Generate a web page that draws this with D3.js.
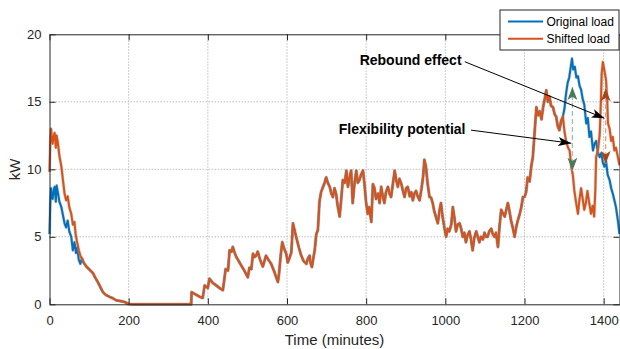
<!DOCTYPE html>
<html>
<head>
<meta charset="utf-8">
<script src="https://cdn.jsdelivr.net/npm/d3@7"></script>
<style>
  body { margin: 0; background: #fff; }
  svg { font-family: "Liberation Sans", Arial, sans-serif; }
  .grid line { stroke: #bdbdbd; stroke-dasharray: 1.5,1.5; }
  .axis text { fill: #262626; font-size: 13px; }
</style>
</head>
<body>
<svg width="620" height="349"></svg>
<script>
// [minute, kW]
const originalHead = [[0,5.2],[2,7.5],[4,8.6],[6,8.0],[8,7.8],[11,8.5],[13,8.7],[16,7.6],[18,8.8],[21,8.3],[25,7.6],[30,7.2],[34,6.6],[38,6.0],[42,5.7],[46,6.2],[50,5.4],[55,5.0],[59,4.0],[63,4.6],[67,3.8],[70,4.2],[74,3.3],[78,3.0]];
const shiftedHead = [[0,9.8],[2,12.0],[4,13.0],[6,12.3],[8,11.9],[11,12.5],[13,12.7],[16,11.6],[18,12.5],[21,12.0],[25,11.0],[30,10.2],[34,9.2],[38,8.2],[42,7.7],[46,8.0],[50,7.2],[55,6.7],[59,5.9],[63,6.1],[66,5.2],[69,4.7],[72,4.3],[74,4.0],[78,3.6]];

// both loads are identical here
const sharedLoad = [[82,3.4],[86,3.1],[93,2.8],[100,2.6],[110,2.3],[116,1.95],[122,1.65],[128,1.3],[135,0.9],[142,0.7],[152,0.55],[160,0.45],[168,0.3],[178,0.25],[190,0.17],[200,0.02],[210,0],[358,0],[359,0.9],[365,0.8],[371,0.7],[380,0.55],[387,0.47],[392,1.4],[396,1.3],[400,1.2],[404,1.9],[412,1.6],[421,1.4],[430,1.2],[438,1.04],[445,2.6],[451,2.5],[455,4.0],[460,3.9],[463,4.25],[468,3.8],[472,3.5],[478,3.2],[484,2.9],[492,2.5],[501,2.0],[505,2.7],[510,2.6],[514,3.75],[518,3.5],[522,3.6],[526,3.9],[532,3.3],[539,2.8],[543,3.2],[547,3.6],[553,3.3],[560,3.0],[568,2.4],[577,1.65],[580,2.3],[584,3.6],[588,4.6],[593,4.1],[598,3.75],[602,3.1],[606,3.4],[611,3.85],[615,6.0],[619,5.5],[623,5.0],[630,4.2],[636,3.6],[642,3.2],[649,3.0],[653,3.4],[657,3.6],[660,3.0],[663,2.76],[667,3.5],[670,4.0],[674,5.2],[678,5.5],[682,7.6],[686,8.3],[691,8.7],[695,9.0],[699,9.4],[703,9.0],[708,8.7],[712,8.2],[716,7.95],[720,8.6],[724,8.2],[728,7.3],[733,6.5],[737,7.8],[741,9.2],[746,9.0],[750,9.9],[754,8.7],[758,9.4],[762,9.9],[766,7.5],[770,8.8],[775,9.9],[779,9.0],[783,9.2],[787,9.6],[792,9.9],[796,8.8],[800,7.5],[804,6.7],[808,7.2],[813,6.1],[817,8.9],[821,8.6],[825,7.8],[830,8.2],[834,7.5],[838,8.7],[842,8.0],[846,7.5],[850,8.3],[855,8.7],[859,8.2],[863,7.95],[867,8.8],[872,9.9],[876,9.2],[880,8.7],[884,9.3],[889,8.9],[893,8.4],[897,7.95],[901,8.6],[905,8.7],[910,8.0],[914,8.3],[918,7.7],[922,8.2],[926,8.4],[930,8.0],[935,7.7],[940,8.6],[944,9.5],[947,10.7],[951,10.2],[955,9.0],[960,7.95],[964,7.9],[968,7.5],[972,6.9],[977,6.4],[981,6.0],[985,6.9],[989,7.5],[993,6.5],[998,5.6],[1002,5.0],[1006,5.6],[1010,5.4],[1015,5.9],[1019,7.2],[1023,6.4],[1027,5.4],[1031,5.9],[1036,6.0],[1040,5.6],[1044,5.0],[1048,5.3],[1052,4.6],[1056,5.1],[1061,5.4],[1065,4.8],[1069,4.0],[1073,4.9],[1078,5.4],[1082,5.0],[1086,4.6],[1090,5.0],[1095,4.8],[1099,5.3],[1103,5.0],[1107,5.0],[1111,5.4],[1116,5.6],[1120,5.2],[1124,5.0],[1128,5.3],[1133,4.25],[1137,5.8],[1141,7.0],[1146,6.7],[1150,6.5],[1154,7.0],[1158,7.5],[1162,6.9],[1166,6.2],[1171,5.6],[1175,5.0],[1179,5.7],[1183,6.2],[1188,6.7],[1192,7.2],[1196,7.95],[1200,7.95],[1204,8.3],[1208,9.4],[1213,9.1],[1217,10.2],[1221,10.9],[1225,12.5],[1230,14.6],[1234,14.0],[1238,14.3],[1243,13.7],[1247,14.6],[1251,15.2],[1255,15.85],[1259,15.0],[1263,15.4],[1267,14.7],[1272,14.6],[1276,14.1],[1280,13.9],[1284,13.2],[1288,12.9]];

const originalTail = [[1292,13.4],[1297,13.9],[1301,14.5],[1305,15.6],[1309,16.4],[1313,16.8],[1317,17.6],[1320,18.2],[1323,17.4],[1327,17.6],[1331,16.8],[1335,16.9],[1339,16.2],[1343,15.9],[1347,15.2],[1351,14.8],[1356,13.4],[1360,13.8],[1364,12.4],[1368,12.8],[1373,11.4],[1377,11.9],[1381,12.1],[1385,11.3],[1390,10.9],[1394,11.2],[1398,10.5],[1402,10.2],[1406,10.6],[1410,9.6],[1415,9.2],[1419,8.6],[1423,8.2],[1427,7.7],[1431,7.2],[1436,6.2],[1440,5.2]];
const shiftedTail = [[1292,13.6],[1297,13.9],[1301,12.8],[1305,12.1],[1310,11.6],[1314,11.4],[1318,10.2],[1322,9.6],[1326,8.4],[1330,7.6],[1335,6.7],[1339,7.8],[1343,8.6],[1347,7.8],[1351,7.0],[1355,7.5],[1359,8.4],[1363,7.6],[1368,6.7],[1372,7.3],[1376,6.5],[1379,8.5],[1381,10.9],[1386,11.5],[1390,12.6],[1393,15.0],[1395,17.1],[1398,17.95],[1402,17.3],[1406,16.6],[1409,15.0],[1411,13.4],[1415,13.0],[1419,12.1],[1423,12.4],[1427,11.4],[1431,11.6],[1436,10.9],[1440,10.3]];

const xTicks = [0, 200, 400, 600, 800, 1000, 1200, 1400];
const yTicks = [0, 5, 10, 15, 20];
const seriesNames = ['Original load', 'Shifted load'];
const seriesColors = ['#0072BD', '#D95319'];

// vertical double arrows: [minute, top kW, bottom kW]
const flexArrow = [1321, 16.1, 9.9];
const reboundArrow = [1405, 16.0, 10.4];

const originalLoad = originalHead.concat(sharedLoad, originalTail);
const shiftedLoad = shiftedHead.concat(sharedLoad, shiftedTail);

const svg = d3.select('svg');
const mLeft = 49.5, mRight = 619.5, mTop = 34.3, mBottom = 304.3;

const x = d3.scaleLinear().domain([0, 1440]).range([mLeft, mRight]);
const y = d3.scaleLinear().domain([0, 20]).range([mBottom, mTop]);

const defs = svg.append('defs');
function marker(id, color, w, h) {
  defs.append('marker')
    .attr('id', id)
    .attr('viewBox', '0 0 10 10')
    .attr('refX', 10).attr('refY', 5)
    .attr('markerUnits', 'userSpaceOnUse')
    .attr('markerWidth', w).attr('markerHeight', h)
    .attr('orient', 'auto-start-reverse')
    .attr('preserveAspectRatio', 'none')
    .append('path')
    .attr('d', 'M0,0 L10,5 L0,10 L2.5,5 Z')
    .attr('fill', color);
}
marker('blackHead', '#000', 13, 9);
marker('greenHead', '#4b7a5d', 13, 10);
marker('brownHead', '#a3461c', 13, 10);

// grid
const grid = svg.append('g').attr('class', 'grid');
grid.selectAll('.gx').data(xTicks.slice(1)).enter().append('line')
  .attr('x1', d => x(d)).attr('x2', d => x(d))
  .attr('y1', mTop).attr('y2', mBottom);
grid.selectAll('.gy').data(yTicks.slice(1, -1)).enter().append('line')
  .attr('x1', mLeft).attr('x2', mRight)
  .attr('y1', d => y(d)).attr('y2', d => y(d));

// lines
const line = d3.line().x(d => x(d[0])).y(d => y(d[1]));
const lines = svg.append('g').attr('fill', 'none').attr('stroke-linejoin', 'round');
[originalLoad, shiftedLoad].forEach((data, i) => {
  lines.append('path').datum(data)
    .attr('d', line)
    .attr('stroke', '#9a9a9a').attr('stroke-opacity', 0.45).attr('stroke-width', 3.2);
  lines.append('path').datum(data)
    .attr('d', line)
    .attr('stroke', seriesColors[i]).attr('stroke-width', 2);
});

// double arrows
function doubleArrow(a, shaft, head) {
  svg.append('line')
    .attr('x1', x(a[0])).attr('x2', x(a[0]))
    .attr('y1', y(a[1])).attr('y2', y(a[2]))
    .attr('stroke', shaft).attr('stroke-width', 1.3)
    .attr('stroke-dasharray', '5,3')
    .attr('marker-start', `url(#${head})`)
    .attr('marker-end', `url(#${head})`);
}
doubleArrow(flexArrow, '#9dbfae', 'greenHead');
doubleArrow(reboundArrow, '#e2a283', 'brownHead');

// axes, ticks inward on all four sides
const axes = svg.append('g').attr('class', 'axis');
axes.append('g').attr('transform', `translate(0,${mBottom})`)
  .call(d3.axisBottom(x).tickValues(xTicks).tickFormat(d3.format('d'))
    .tickSizeInner(-6).tickSizeOuter(0).tickPadding(11));
axes.append('g').attr('transform', `translate(0,${mTop})`)
  .call(d3.axisTop(x).tickValues(xTicks).tickSizeInner(-6).tickSizeOuter(0).tickFormat(''));
axes.append('g').attr('transform', `translate(${mLeft},0)`)
  .call(d3.axisLeft(y).tickValues(yTicks).tickSizeInner(-6).tickSizeOuter(0).tickPadding(8));
axes.append('g').attr('transform', `translate(${mRight},0)`)
  .call(d3.axisRight(y).tickValues(yTicks).tickSizeInner(-6).tickSizeOuter(0).tickFormat(''));
axes.selectAll('.domain, .tick line').attr('stroke', '#262626');

svg.append('text')
  .attr('x', (mLeft + mRight) / 2).attr('y', 345)
  .attr('text-anchor', 'middle').attr('font-size', 15).attr('fill', '#262626')
  .text('Time (minutes)');
svg.append('text')
  .attr('transform', `translate(20,${(mTop + mBottom) / 2}) rotate(-90)`)
  .attr('text-anchor', 'middle').attr('font-size', 15).attr('fill', '#262626')
  .text('kW');

// annotations
function note(label, tx, tv, from, to) {
  svg.append('text')
    .attr('x', x(tx)).attr('y', y(tv))
    .attr('text-anchor', 'end').attr('font-size', 14).attr('font-weight', 'bold')
    .text(label);
  svg.append('line')
    .attr('x1', x(from[0])).attr('y1', y(from[1]))
    .attr('x2', x(to[0])).attr('y2', y(to[1]))
    .attr('stroke', '#000').attr('stroke-width', 1)
    .attr('marker-end', 'url(#blackHead)');
}
note('Rebound effect', 1041, 17.7, [1049, 17.97], [1402, 13.78]);
note('Flexibility potential', 1051, 12.65, [1065, 12.9], [1318, 11.93]);

// legend
const legend = svg.append('g').attr('transform', 'translate(500,10)');
legend.append('rect').attr('width', 119).attr('height', 40)
  .attr('fill', '#fff').attr('stroke', '#262626').attr('stroke-width', 1);
seriesNames.forEach((name, i) => {
  const ly = 11.5 + i * 17.3;
  legend.append('line').attr('x1', 8).attr('x2', 43).attr('y1', ly).attr('y2', ly)
    .attr('stroke', seriesColors[i]).attr('stroke-width', 2);
  legend.append('text').attr('x', 46.5).attr('y', ly + 4.3)
    .attr('font-size', 12).attr('fill', '#000').text(name);
});
</script>
</body>
</html>
